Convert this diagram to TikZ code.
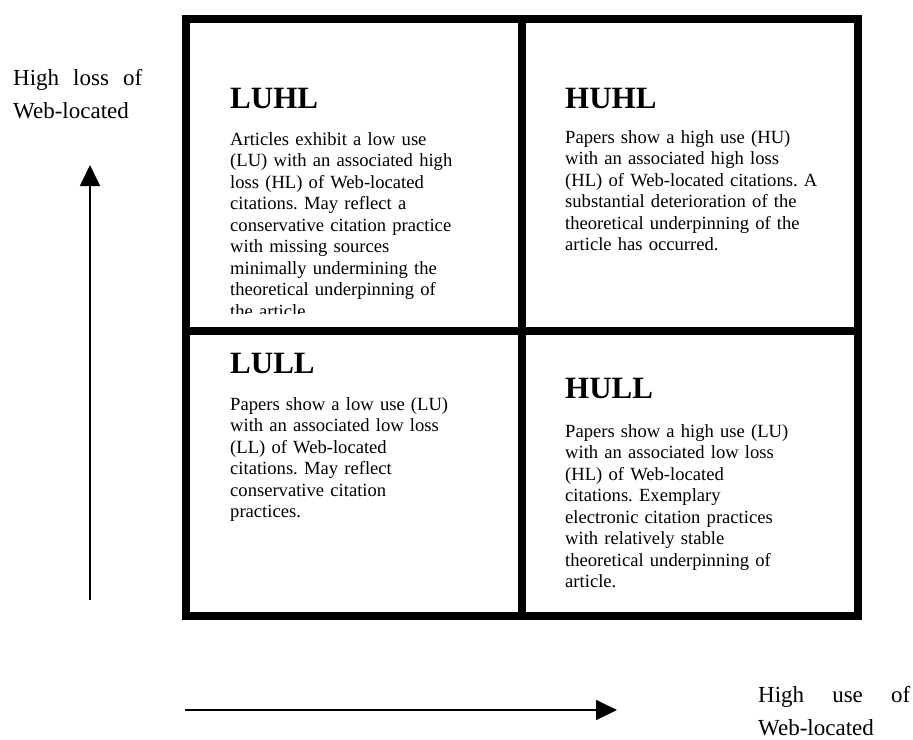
\documentclass[tikz,border=0pt]{standalone}
\usepackage{fontspec}
\setmainfont{Liberation Serif}
\usetikzlibrary{arrows.meta}
\frenchspacing
\begin{document}
\begin{tikzpicture}[x=1pt,y=-1pt,
  body/.style={anchor=base west,inner sep=0pt,text width=280pt,align=left,font=\fontsize{18.6}{21.5}\selectfont\frenchspacing},
  head/.style={anchor=base west,inner sep=0pt,font=\fontsize{31}{36}\selectfont\bfseries},
  lab/.style={anchor=base west,inner sep=0pt,text width=160pt,align=left,font=\fontsize{23}{33}\selectfont},
  grid/.style={line width=8pt},
  axis/.style={line width=1.7pt,-{Triangle[width=20pt,length=21pt]}}]
\useasboundingbox (0,0) rectangle (913,739);
% grid
\draw[grid] (186,19) rectangle (857.5,616);
\draw[grid] (522,19) -- (522,616);
\draw[grid] (186,331) -- (857.5,331);
% LUHL
\node[head] (h1) at (230,108) {LUHL};
\begin{scope}
\clip (190,23) rectangle (518,313);
\node[body] (t1) at (230,145) {Articles exhibit a low use\\(LU) with an associated high\\loss (HL) of Web-located\\citations. May reflect a\\conservative citation practice\\with missing sources\\minimally undermining the\\theoretical underpinning of\\the article.};
\end{scope}
% HUHL
\node[head] (h2) at (565,108) {HUHL};
\node[body] (t2) at (565,143) {Papers show a high use (HU)\\with an associated high loss\\(HL) of Web-located citations. A\\substantial deterioration of the\\theoretical underpinning of the\\article has occurred.};
% LULL
\node[head] (h3) at (230,373) {LULL};
\node[body] (t3) at (230,410) {Papers show a low use (LU)\\with an associated low loss\\(LL) of Web-located\\citations. May reflect\\conservative citation\\practices.};
% HULL
\node[head] (h4) at (565,398) {HULL};
\node[body] (t4) at (565,437) {Papers show a high use (LU)\\with an associated low loss\\(HL) of Web-located\\citations. Exemplary\\electronic citation practices\\with relatively stable\\theoretical underpinning of\\article.};
% axis labels
\node[lab] (ly) at (13,85) {\hbox to 129pt{High\hfill loss\hfill of}\\Web-located};
\node[lab] (lx) at (758,702) {\hbox to 152pt{High\hfill use\hfill of}\\Web-located};
% arrows
\coordinate (v0) at (90,600);
\coordinate (v1) at (90,165);
\draw[axis] (v0) -- (v1);
\coordinate (u0) at (185,710);
\coordinate (u1) at (617,710);
\draw[axis] (u0) -- (u1);
\end{tikzpicture}
\end{document}
